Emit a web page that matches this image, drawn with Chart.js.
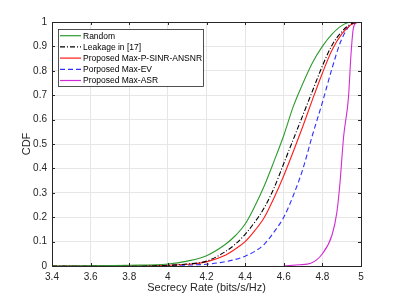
<!DOCTYPE html>
<html>
<head>
<meta charset="utf-8">
<script src="https://cdn.jsdelivr.net/npm/chart.js@4"></script>
<style>
  body { margin: 0; background: #fff; }
</style>
</head>
<body>
<canvas id="cdfChart" width="399" height="299"></canvas>
<script>
// x grid shared by the first four curves
const rateGrid = [3.4, 3.6, 3.8, 4.0, 4.1, 4.2, 4.3, 4.35, 4.4, 4.45, 4.5, 4.55, 4.6, 4.65, 4.7, 4.75, 4.8, 4.85, 4.9, 4.95, 5.0];
const cdfRandom  = [0, 0.001, 0.003, 0.008, 0.02, 0.042, 0.09, 0.125, 0.172, 0.245, 0.33, 0.43, 0.535, 0.655, 0.75, 0.835, 0.9, 0.95, 0.985, 1, 1];
const cdfLeakage = [0, 0, 0.001, 0.003, 0.008, 0.02, 0.06, 0.09, 0.13, 0.18, 0.24, 0.32, 0.42, 0.52, 0.62, 0.72, 0.82, 0.905, 0.96, 0.993, 1];
const cdfPSinr   = [0, 0, 0.001, 0.003, 0.007, 0.017, 0.045, 0.07, 0.1, 0.145, 0.2, 0.28, 0.37, 0.47, 0.575, 0.685, 0.79, 0.885, 0.95, 0.99, 1];
const cdfMaxEV   = [0, 0, 0, 0.002, 0.004, 0.007, 0.018, 0.027, 0.04, 0.06, 0.09, 0.14, 0.2, 0.29, 0.4, 0.54, 0.67, 0.81, 0.93, 0.99, 1];
// Max-ASR curve has its own x points
const rateASR = [4.6, 4.68, 4.74, 4.8, 4.85, 4.875, 4.89, 4.91, 4.935, 4.948, 4.96, 4.978];
const cdfASR  = [0, 0.005, 0.011, 0.05, 0.127, 0.22, 0.33, 0.53, 0.69, 0.865, 0.973, 1];

const seriesNames = ['Random', 'Leakage in [17]', 'Proposed Max-P-SINR-ANSNR', 'Porposed Max-EV', 'Proposed Max-ASR'];
const yTicks = [0, 0.1, 0.2, 0.3, 0.4, 0.5, 0.6, 0.7, 0.8, 0.9, 1];
const xTicks = [3.4, 3.6, 3.8, 4.0, 4.2, 4.4, 4.6, 4.8, 5.0];

const axisColor = '#262626';
const fontFamily = '"Liberation Sans", Arial, sans-serif';

function pts(xs, ys) {
  return xs.map((v, i) => ({ x: v, y: ys[i] }));
}

function makeSet(label, xs, ys, color, dash) {
  return {
    label: label,
    data: pts(xs, ys),
    borderColor: color,
    backgroundColor: color,
    borderWidth: 1.1,
    borderDash: dash,
    pointRadius: 0,
    fill: false,
    cubicInterpolationMode: 'monotone',
  };
}

// matlab style box, inward ticks, axis titles and legend
const matlabPlugin = {
  id: 'matlabPlugin',
  afterDatasetsDraw(chart) {
    const { ctx, chartArea: a, scales: { x, y } } = chart;
    ctx.save();
    ctx.strokeStyle = axisColor;
    ctx.lineWidth = 1;
    ctx.strokeRect(a.left + 0.5, a.top + 0.5, a.right - a.left, a.bottom - a.top);
    ctx.beginPath();
    xTicks.forEach(v => {
      const px = Math.round(x.getPixelForValue(v)) + 0.5;
      ctx.moveTo(px, a.bottom); ctx.lineTo(px, a.bottom - 3);
      ctx.moveTo(px, a.top); ctx.lineTo(px, a.top + 3);
    });
    yTicks.forEach(v => {
      const py = Math.round(y.getPixelForValue(v)) + 0.5;
      ctx.moveTo(a.left, py); ctx.lineTo(a.left + 3, py);
      ctx.moveTo(a.right, py); ctx.lineTo(a.right - 3, py);
    });
    ctx.stroke();

    // axis titles
    ctx.fillStyle = axisColor;
    ctx.font = '11px ' + fontFamily;
    ctx.textAlign = 'center';
    ctx.textBaseline = 'middle';
    ctx.fillText('Secrecy Rate (bits/s/Hz)', (a.left + a.right) / 2, 288);
    ctx.save();
    ctx.translate(27, (a.top + a.bottom) / 2);
    ctx.rotate(-Math.PI / 2);
    ctx.fillText('CDF', 0, 0);
    ctx.restore();

    // legend
    const lx = 58, ly = 29, lw = 145, lh = 57;
    ctx.fillStyle = '#fff';
    ctx.fillRect(lx, ly, lw, lh);
    ctx.strokeStyle = axisColor;
    ctx.lineWidth = 0.8;
    ctx.strokeRect(lx + 0.5, ly + 0.5, lw, lh);
    ctx.font = '8.5px ' + fontFamily;
    ctx.textAlign = 'left';
    chart.data.datasets.forEach((ds, i) => {
      const ry = ly + 6.7 + i * 11.2;
      ctx.strokeStyle = ds.borderColor;
      ctx.lineWidth = 1.2;
      ctx.setLineDash(ds.borderDash || []);
      ctx.beginPath();
      ctx.moveTo(60, ry); ctx.lineTo(81, ry);
      ctx.stroke();
      ctx.setLineDash([]);
      ctx.fillStyle = '#000';
      ctx.fillText(ds.label, 83, ry + 0.5);
    });
    ctx.restore();
  }
};

const ctx = document.getElementById('cdfChart').getContext('2d');
new Chart(ctx, {
  type: 'line',
  data: {
    datasets: [
      makeSet(seriesNames[0], rateGrid, cdfRandom, '#2e9a2e', []),
      makeSet(seriesNames[1], rateGrid, cdfLeakage, '#000000', [5, 2, 1, 2]),
      makeSet(seriesNames[2], rateGrid, cdfPSinr, '#ff1a1a', []),
      makeSet(seriesNames[3], rateGrid, cdfMaxEV, '#2f2fff', [5, 3]),
      makeSet(seriesNames[4], rateASR, cdfASR, '#d22dd2', []),
    ]
  },
  options: {
    responsive: false,
    animation: false,
    layout: { padding: { top: 22, right: 38, left: 0, bottom: 0 } },
    plugins: { legend: { display: false }, tooltip: { enabled: false } },
    scales: {
      x: {
        type: 'linear',
        min: 3.4,
        max: 5,
        afterFit: s => { s.height = 33; },
        afterBuildTicks: s => { s.ticks = xTicks.map(v => ({ value: v })); },
        grid: { color: '#e6e6e6', drawTicks: false },
        border: { display: false },
        ticks: {
          padding: 5,
          color: axisColor,
          font: { size: 10, family: fontFamily },
          callback: v => String(+v.toFixed(1))
        }
      },
      y: {
        min: 0,
        max: 1,
        afterFit: s => { s.width = 52; },
        afterBuildTicks: s => { s.ticks = yTicks.map(v => ({ value: v })); },
        grid: { color: '#e6e6e6', drawTicks: false },
        border: { display: false },
        ticks: {
          padding: 5,
          color: axisColor,
          font: { size: 10, family: fontFamily },
          callback: v => String(+v.toFixed(1))
        }
      }
    }
  },
  plugins: [matlabPlugin]
});
</script>
</body>
</html>
